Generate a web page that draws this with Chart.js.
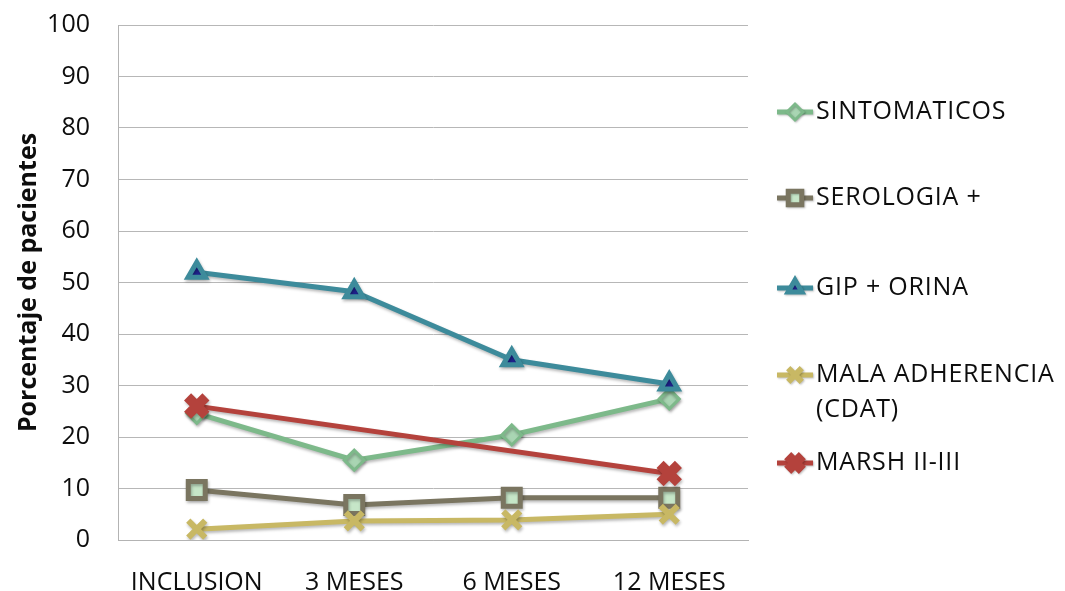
<!DOCTYPE html>
<html>
<head>
<meta charset="utf-8">
<script src="https://cdn.jsdelivr.net/npm/chart.js@4/dist/chart.umd.min.js"></script>
<style>
  html, body { margin: 0; padding: 0; background: #ffffff; }
  #wrap { width: 1065px; height: 591px; position: relative; }
</style>
</head>
<body>
<div id="wrap"><canvas id="chart"></canvas></div>
<script>
// Follow-up time points
const categories = ['INCLUSION', '3 MESES', '6 MESES', '12 MESES'];

// Percentage of patients per indicator
const sintomaticos   = [24.6, 15.5, 20.4, 27.4];
const serologia      = [9.7, 6.8, 8.2, 8.2];
const gipOrina       = [52.0, 48.2, 35.0, 30.3];
const malaAdherencia = [2.1, 3.7, 3.9, 5.0];
const marsh          = [26.0, null, null, 12.9];

// Legend texts (multi-line entries as arrays)
const seriesNames = ['SINTOMATICOS', 'SEROLOGIA +', 'GIP + ORINA', ['MALA ADHERENCIA', '(CDAT)'], 'MARSH II-III'];

// Y axis range and tick step
const yMin = 0, yMax = 100, yStep = 10;

const FONT = "'Open Sans', 'Liberation Sans', sans-serif";

const datasets = [
  {
    label: seriesNames[0], data: sintomaticos,
    borderColor: '#7db98a', backgroundColor: '#a9d5b3',
    borderWidth: 5, pointStyle: 'rectRot', pointRadius: 10,
    pointBorderWidth: 3, pointBorderColor: '#7db98a', order: 5
  },
  {
    label: seriesNames[1], data: serologia,
    borderColor: '#7a7560', backgroundColor: '#c6e6c8',
    borderWidth: 5, pointStyle: 'rect', pointRadius: 12,
    pointBorderWidth: 5, pointBorderColor: '#7a7560', order: 4
  },
  {
    label: seriesNames[2], data: gipOrina,
    borderColor: '#3d8b9b', backgroundColor: '#1f2390',
    borderWidth: 5, pointStyle: 'triangle', pointRadius: 10,
    pointBorderWidth: 5, pointBorderColor: '#3d8b9b', order: 3
  },
  {
    label: seriesNames[3], data: malaAdherencia,
    borderColor: '#c8b864', backgroundColor: '#c8b864',
    borderWidth: 5, pointStyle: 'crossRot', pointRadius: 12,
    pointBorderWidth: 6, pointBorderColor: '#c8b864', order: 2
  },
  {
    label: seriesNames[4], data: marsh,
    borderColor: '#b4423c', backgroundColor: '#b4423c',
    borderWidth: 5, pointStyle: 'crossRot', pointRadius: 13,
    pointBorderWidth: 10, pointBorderColor: '#b4423c', order: 1,
    spanGaps: true
  }
];

// Soft drop shadow under lines and markers
const shadowPlugin = {
  id: 'softShadow',
  beforeDatasetsDraw(chart) {
    const ctx = chart.ctx;
    ctx.save();
    ctx.shadowColor = 'rgba(0,0,0,0.28)';
    ctx.shadowBlur = 3;
    ctx.shadowOffsetX = 1;
    ctx.shadowOffsetY = 2;
  },
  afterDatasetsDraw(chart) {
    chart.ctx.restore();
  }
};

// Legend on the right: short line with marker, then the series name
const sideLegend = {
  id: 'sideLegend',
  afterDraw(chart) {
    const ctx = chart.ctx;
    const rows = [112, 198, 288, 375, 463];
    const lineX0 = 777, lineX1 = 813, markX = 795, textX = 816;
    chart.data.datasets.forEach((ds, i) => {
      const y = rows[i];
      ctx.save();
      ctx.shadowColor = 'rgba(0,0,0,0.25)';
      ctx.shadowBlur = 2;
      ctx.shadowOffsetX = 1;
      ctx.shadowOffsetY = 1;
      ctx.strokeStyle = ds.borderColor;
      ctx.lineWidth = ds.borderWidth;
      ctx.beginPath();
      ctx.moveTo(lineX0, y);
      ctx.lineTo(lineX1, y);
      ctx.stroke();
      ctx.fillStyle = ds.backgroundColor;
      ctx.strokeStyle = ds.pointBorderColor;
      ctx.lineWidth = ds.pointBorderWidth;
      Chart.helpers.drawPoint(ctx, {
        pointStyle: ds.pointStyle,
        radius: ds.pointRadius * 0.8,
        rotation: 0,
        borderWidth: ds.pointBorderWidth
      }, markX, y);
      ctx.restore();

      ctx.save();
      ctx.fillStyle = '#0d0d0d';
      ctx.font = '25px ' + FONT;
      ctx.textAlign = 'left';
      ctx.textBaseline = 'middle';
      try { ctx.letterSpacing = '0.8px'; } catch (e) {}
      const lines = Array.isArray(ds.label) ? ds.label : [ds.label];
      lines.forEach((t, k) => ctx.fillText(t, textX, y + k * 35));
      ctx.restore();
    });
  }
};

new Chart(document.getElementById('chart'), {
  type: 'line',
  data: { labels: categories, datasets },
  plugins: [shadowPlugin, sideLegend],
  options: {
    responsive: true,
    maintainAspectRatio: false,
    animation: false,
    devicePixelRatio: 1,
    layout: { padding: { left: 14, right: 317, top: 25, bottom: 0 } },
    plugins: { legend: { display: false }, tooltip: { enabled: false } },
    elements: { line: { tension: 0 } },
    scales: {
      x: {
        offset: true,
        grid: { display: false },
        border: { display: true, color: '#b3b3b3', width: 1 },
        ticks: { font: { family: FONT, size: 25 }, color: '#0d0d0d', padding: 20, maxRotation: 0, autoSkip: false },
        afterFit(scale) { scale.height = 51; }
      },
      y: {
        min: yMin, max: yMax,
        ticks: { stepSize: yStep, font: { family: FONT, size: 25 }, color: '#0d0d0d', padding: 28 },
        grid: { color: '#b7b7b7', lineWidth: 1, drawTicks: false },
        border: { display: true, color: '#b3b3b3', width: 1 },
        title: {
          display: true, text: 'Porcentaje de pacientes',
          font: { family: FONT, size: 25, weight: 'bold' }, color: '#0d0d0d',
          padding: 0
        },
        afterFit(scale) {
          scale.width = 104;
          scale.paddingTop = 0;
        }
      }
    }
  }
});
</script>
</body>
</html>
